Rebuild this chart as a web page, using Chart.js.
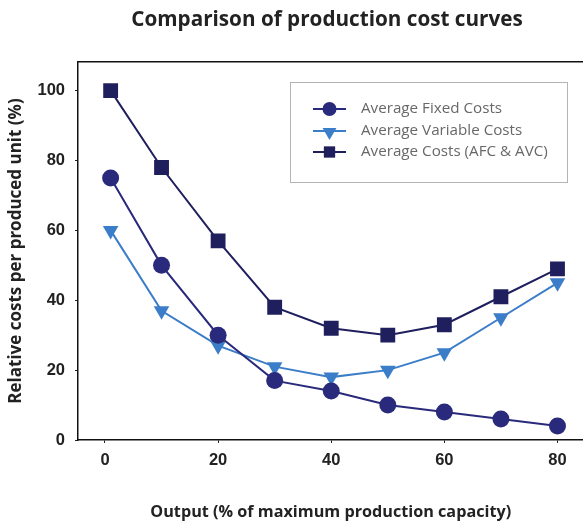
<!DOCTYPE html>
<html>
<head>
<meta charset="utf-8">
<script src="https://cdn.jsdelivr.net/npm/chart.js@4.4.0/dist/chart.umd.min.js"></script>
<style>
  html, body { margin: 0; padding: 0; background: #ffffff; overflow: hidden; }
  #wrap { width: 583px; height: 524px; position: relative; overflow: hidden; }
  #c { display: block; }
</style>
</head>
<body>
<div id="wrap"><canvas id="c" width="594" height="524"></canvas></div>
<script>
// Output levels (% of maximum production capacity)
const output = [1, 10, 20, 30, 40, 50, 60, 70, 80];

// Relative cost per produced unit (%)
const afc = [75, 50, 30, 17, 14, 10, 8, 6, 4];
const avc = [60, 37, 27, 21, 18, 20, 25, 35, 45];
const ac  = [100, 78, 57, 38, 32, 30, 33, 41, 49];

const seriesLabels = ['Average Fixed Costs', 'Average Variable Costs', 'Average Costs (AFC & AVC)'];
const xTicks = [0, 20, 40, 60, 80];
const yTicks = [0, 20, 40, 60, 80, 100];

const titleText = 'Comparison of production cost curves';
const xTitle = 'Output (% of maximum production capacity)';
const yTitle = 'Relative costs per produced unit (%)';

const pts = vals => output.map((x, i) => ({ x: x, y: vals[i] }));

const COL_AFC = '#2a2a7c';
const COL_AVC = '#3b7dc8';
const COL_AC  = '#201f5e';

const X_MIN = -4.77, X_MAX = 84.6;

// Title and boxed legend drawn on the canvas
const decor = {
  id: 'decor',
  afterDraw(chart) {
    const ctx = chart.ctx;
    ctx.save();
    ctx.fillStyle = '#222222';
    ctx.font = 'bold 20.7px "Open Sans"';
    ctx.textAlign = 'center';
    ctx.textBaseline = 'middle';
    ctx.fillText(titleText, 327, 20);

    // legend box
    const bx = 290.5, by = 82.5, bw = 277, bh = 100;
    ctx.fillStyle = '#ffffff';
    ctx.fillRect(bx, by, bw, bh);
    ctx.strokeStyle = '#b4b4b4';
    ctx.lineWidth = 1;
    ctx.strokeRect(bx, by, bw, bh);

    const rows = [109, 131, 152];
    chart.data.datasets.forEach((ds, i) => {
      const y = rows[i];
      ctx.strokeStyle = ds.borderColor;
      ctx.lineWidth = 2;
      ctx.beginPath();
      ctx.moveTo(313, y);
      ctx.lineTo(346, y);
      ctx.stroke();
      ctx.fillStyle = ds.pointBackgroundColor;
      ctx.strokeStyle = ds.pointBackgroundColor;
      Chart.helpers.drawPoint(ctx, {
        pointStyle: ds.pointStyle,
        radius: ds.legendRadius,
        rotation: ds.pointRotation || 0,
        borderWidth: 0
      }, 329.5, y + (ds.pointStyle === 'triangle' ? 1 : 0));
      ctx.fillStyle = '#686868';
      ctx.font = '15.2px "Open Sans"';
      ctx.textAlign = 'left';
      ctx.textBaseline = 'middle';
      ctx.fillText(ds.label, 361, y);
    });
    ctx.restore();
  }
};

new Chart(document.getElementById('c'), {
  type: 'line',
  data: {
    datasets: [
      {
        label: seriesLabels[0], data: pts(afc),
        borderColor: COL_AFC, pointBackgroundColor: COL_AFC, pointBorderColor: COL_AFC,
        pointStyle: 'circle', pointRadius: 8.5, legendRadius: 7
      },
      {
        label: seriesLabels[1], data: pts(avc),
        borderColor: COL_AVC, pointBackgroundColor: COL_AVC, pointBorderColor: COL_AVC,
        pointStyle: 'triangle', pointRotation: 180, pointRadius: 9, legendRadius: 8
      },
      {
        label: seriesLabels[2], data: pts(ac),
        borderColor: COL_AC, pointBackgroundColor: COL_AC, pointBorderColor: COL_AC,
        pointStyle: 'rect', pointRadius: 10.5, legendRadius: 8
      }
    ]
  },
  options: {
    responsive: false,
    animation: false,
    layout: { padding: { top: 62, right: 0, left: 0, bottom: 0 } },
    elements: {
      line: { borderWidth: 2, tension: 0, fill: false },
      point: { borderWidth: 0, hoverRadius: 8 }
    },
    plugins: {
      legend: { display: false },
      title: { display: false },
      tooltip: { enabled: false }
    },
    scales: {
      x: {
        type: 'linear',
        min: X_MIN,
        max: X_MAX,
        afterBuildTicks: s => { s.ticks = xTicks.map(v => ({ value: v })); },
        afterFit: s => { s.height = 84; },
        grid: { display: true, drawOnChartArea: false, drawTicks: true, tickLength: 3, color: '#222' },
        border: { display: true, color: '#111', width: 1.5 },
        ticks: { padding: 8, color: '#222', font: { family: '"Liberation Sans"', weight: 'bold', size: 16.5 } },
        title: {
          display: true, text: xTitle, color: '#222',
          font: { family: '"Open Sans"', weight: 'bold', size: 16.2 },
          padding: { top: 0, bottom: 2 }
        }
      },
      xTop: {
        type: 'linear', position: 'top', min: X_MIN, max: X_MAX,
        afterFit: s => { s.height = 0; },
        grid: { display: false, drawTicks: false },
        ticks: { display: false },
        border: { display: true, color: '#111', width: 1.5 }
      },
      y: {
        min: 0,
        max: 108.2,
        afterBuildTicks: s => { s.ticks = yTicks.map(v => ({ value: v })); },
        afterFit: s => { s.width = 78; },
        grid: { display: true, drawOnChartArea: false, drawTicks: true, tickLength: 3, color: '#222' },
        border: { display: true, color: '#111', width: 1.5 },
        ticks: { padding: 10, color: '#222', font: { family: '"Liberation Sans"', weight: 'bold', size: 16.5 } },
        title: {
          display: true, text: yTitle, color: '#222',
          font: { family: '"Open Sans"', weight: 'bold', size: 17 },
          padding: { top: 6, bottom: 0 }
        }
      }
    }
  },
  plugins: [decor]
});
</script>
</body>
</html>
